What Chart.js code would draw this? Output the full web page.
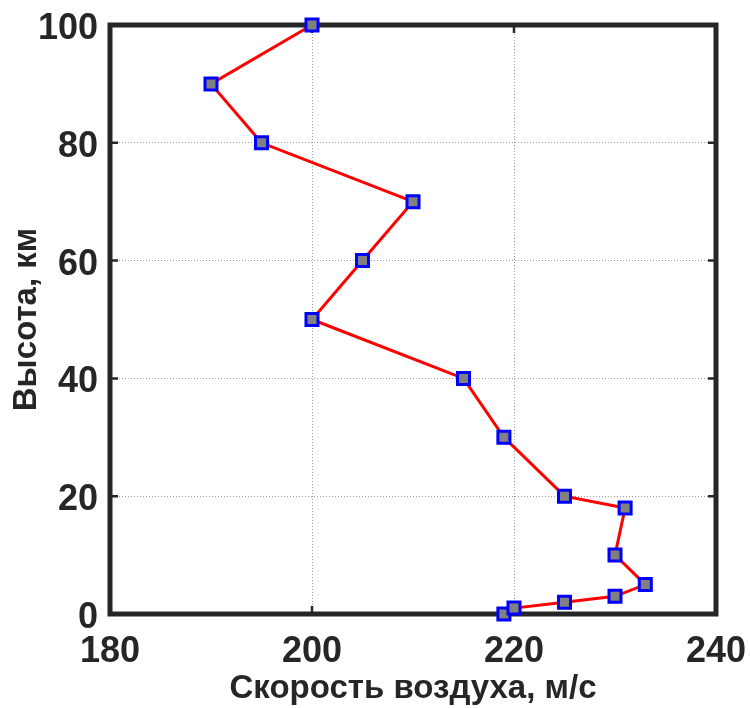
<!DOCTYPE html>
<html>
<head>
<meta charset="utf-8">
<script src="https://cdn.jsdelivr.net/npm/chart.js@4/dist/chart.umd.min.js"></script>
<style>
  html, body { margin: 0; padding: 0; background: #fff; }
  #wrap { width: 750px; height: 708px; }
</style>
</head>
<body>
<div id="wrap"><canvas id="c" width="750" height="708"></canvas></div>
<script>
// Wind-speed profile: altitude (km) vs air speed (m/s)
const heightKm = [0, 1, 2, 3, 5, 10, 18, 20, 30, 40, 50, 60, 70, 80, 90, 100];
const airSpeed = [219, 220, 225, 230, 233, 230, 231, 225, 219, 215, 200, 205, 210, 195, 190, 200];
const xTicks = [180, 200, 220, 240];
const yTicks = [0, 20, 40, 60, 80, 100];
const xTitle = 'Скорость воздуха, м/с';
const yTitle = 'Высота, км';

const ink = '#262626';
const tickFont = { family: '"Liberation Sans", Arial, sans-serif', size: 36, weight: 'bold' };
const titleFont = { family: '"Liberation Sans", Arial, sans-serif', size: 33, weight: 'bold', lineHeight: 1.15 };

const points = heightKm.map((h, i) => ({ x: airSpeed[i], y: h }));

// Box frame with inward ticks on all four sides
const boxFrame = {
  id: 'boxFrame',
  beforeDatasetsDraw(chart) {
    const { ctx, chartArea: a, scales } = chart;
    ctx.save();
    ctx.strokeStyle = ink;
    ctx.lineWidth = 2.5;
    const tl = 8;
    xTicks.forEach(v => {
      const px = scales.x.getPixelForValue(v);
      ctx.beginPath();
      ctx.moveTo(px, a.bottom); ctx.lineTo(px, a.bottom - tl);
      ctx.moveTo(px, a.top); ctx.lineTo(px, a.top + tl);
      ctx.stroke();
    });
    yTicks.forEach(v => {
      const py = scales.y.getPixelForValue(v);
      ctx.beginPath();
      ctx.moveTo(a.left, py); ctx.lineTo(a.left + tl, py);
      ctx.moveTo(a.right, py); ctx.lineTo(a.right - tl, py);
      ctx.stroke();
    });
    ctx.lineWidth = 5;
    ctx.strokeRect(a.left, a.top, a.right - a.left, a.bottom - a.top);
    ctx.restore();
  }
};

const gridColor = (vals) => (c) => {
  const v = c.tick && c.tick.value;
  return (v === vals[0] || v === vals[vals.length - 1]) ? 'rgba(0,0,0,0)' : '#9c9c9c';
};

new Chart(document.getElementById('c'), {
  type: 'scatter',
  data: {
    datasets: [{
      data: points,
      showLine: true,
      borderColor: '#ff0000',
      borderWidth: 3,
      pointStyle: 'rect',
      pointRadius: 8.5,
      pointHoverRadius: 8.5,
      pointBackgroundColor: '#808080',
      pointBorderColor: '#0000ff',
      pointBorderWidth: 3,
      clip: false
    }]
  },
  options: {
    responsive: false,
    animation: false,
    devicePixelRatio: 1,
    layout: { padding: { top: 25, right: 34, bottom: 0, left: 0 } },
    plugins: { legend: { display: false }, tooltip: { enabled: false } },
    scales: {
      x: {
        type: 'linear',
        min: 180, max: 240,
        afterBuildTicks: s => { s.ticks = xTicks.map(v => ({ value: v })); },
        afterFit: s => { s.height = 94; s.paddingLeft = 0; s.paddingRight = 0; },
        grid: { color: gridColor(xTicks), lineWidth: 1, drawTicks: false },
        border: { display: false, dash: [1, 2] },
        ticks: { font: tickFont, color: ink, padding: 16, autoSkip: false, maxRotation: 0 },
        title: { display: true, text: xTitle, font: titleFont, color: ink, padding: { top: 0, bottom: 0 } }
      },
      y: {
        type: 'linear',
        min: 0, max: 100,
        afterBuildTicks: s => { s.ticks = yTicks.map(v => ({ value: v })); },
        afterFit: s => { s.width = 110; s.paddingTop = 0; s.paddingBottom = 0; },
        grid: { color: gridColor(yTicks), lineWidth: 1, drawTicks: false },
        border: { display: false, dash: [1, 2] },
        ticks: { font: tickFont, color: ink, padding: 12, autoSkip: false, labelOffset: 4 },
        title: { display: true, text: yTitle, font: titleFont, color: ink, padding: { top: 8, bottom: 0 } }
      }
    }
  },
  plugins: [boxFrame]
});
</script>
</body>
</html>
